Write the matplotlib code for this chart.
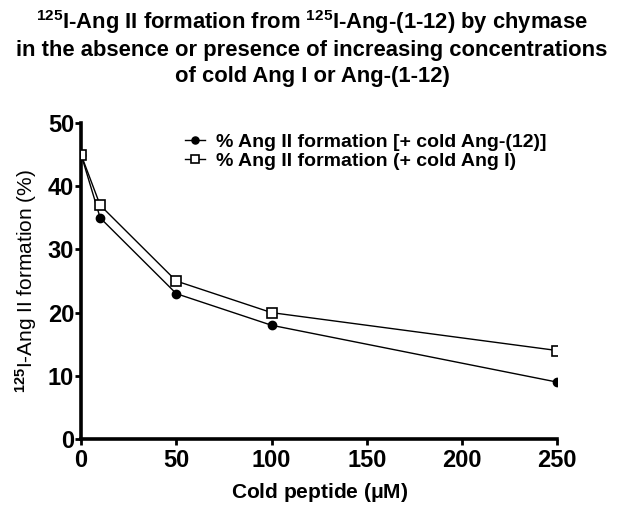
import matplotlib
matplotlib.use("Agg")
import matplotlib.pyplot as plt

plt.rcParams['font.family'] = ['Liberation Sans', 'DejaVu Sans']
plt.rcParams['font.weight'] = 'bold'
plt.rcParams['mathtext.fontset'] = 'custom'
plt.rcParams['mathtext.rm'] = 'Liberation Sans'
plt.rcParams['mathtext.bf'] = 'Liberation Sans:bold'
plt.rcParams['mathtext.it'] = 'Liberation Sans:italic'

# data
conc = [0, 10, 50, 100, 250]
ang12 = [45, 35, 23, 18, 9]
ang1 = [45, 37, 25, 20, 14]

fig = plt.figure(figsize=(6.24, 5.12), dpi=100)
ax = fig.add_axes([0.13, 0.1426, 0.763, 0.617])

ax.plot(conc, ang12, color='black', lw=1.0, marker='o', ms=6,
        label='% Ang II formation [+ cold Ang-(12)]', zorder=3)
ax.plot(conc, ang1, color='black', lw=1.0, marker='s', ms=6.5,
        markerfacecolor='white', markeredgewidth=1.2,
        label='% Ang II formation (+ cold Ang I)', zorder=3)

ax.set_xlim(0, 250)
ax.set_ylim(0, 50)
ax.set_xticks([0, 50, 100, 150, 200, 250])
ax.set_yticks([0, 10, 20, 30, 40, 50])
for s in ['top', 'right']:
    ax.spines[s].set_visible(False)
for s in ['left', 'bottom']:
    ax.spines[s].set_linewidth(2.6)
ax.tick_params(width=2, length=4, labelsize=17, pad=1)
ax.tick_params(axis='x', pad=3)
for lab in ax.get_xticklabels() + ax.get_yticklabels():
    lab.set_fontweight('bold')

ax.set_xlabel(r'Cold peptide ($\mathbf{\mu}$M)', fontsize=15, fontweight='bold', labelpad=7)
ax.set_ylabel(r'$^{125}$I-Ang II formation (%)', fontsize=15, fontweight='normal', labelpad=6)

ax.legend(loc='upper left', bbox_to_anchor=(0.19, 1.01), frameon=False,
          fontsize=14, handlelength=1.0, handletextpad=0.6, labelspacing=0.05,
          borderpad=0.2, markerscale=0.85)

fig.suptitle(r'$^{\mathbf{125}}$I-Ang II formation from $^{\mathbf{125}}$I-Ang-(1-12) by chymase' '\n'
             'in the absence or presence of increasing concentrations\n'
             'of cold Ang I or Ang-(1-12)',
             fontsize=15.8, fontweight='bold', y=0.985, linespacing=1.3)

plt.savefig('out.png', dpi=100)
